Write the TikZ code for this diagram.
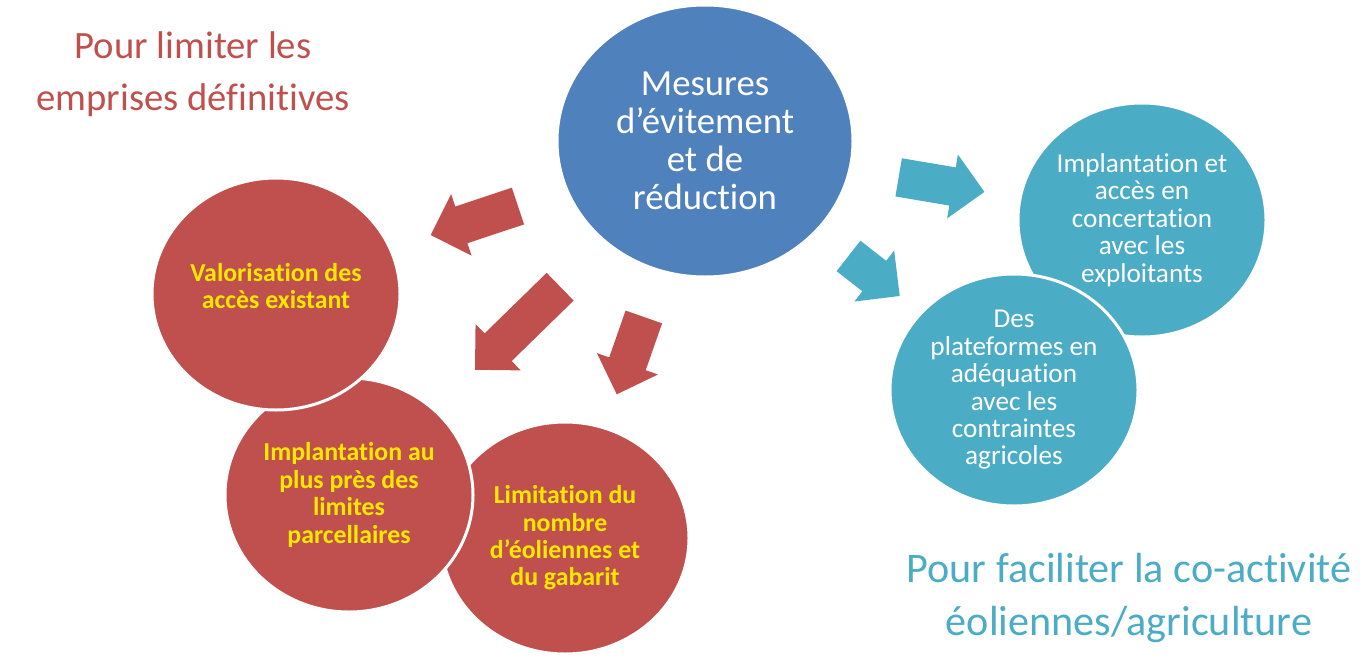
\documentclass[tikz,border=0pt]{standalone}
\usepackage{fontspec}
\setmainfont{Carlito}[Ligatures=NoCommon]
\usepackage{tikz}
\usetikzlibrary{shapes.geometric,shapes.arrows}
\definecolor{mesred}{HTML}{C0504D}
\definecolor{mesblue}{HTML}{4F81BD}
\definecolor{mesteal}{HTML}{4BACC6}
\definecolor{mesyellow}{HTML}{FFE800}
\newlength\pxlen
\setlength\pxlen{0.02cm}

\begin{document}
\begin{tikzpicture}[x=1\pxlen,y=-1\pxlen,
bulle/.style n args={3}{ellipse,fill=#1,draw=white,line width=3\pxlen,minimum width=#2\pxlen,minimum height=#3\pxlen,inner sep=0pt,align=center,text=white,font=\fontsize{15.5}{15.6}\selectfont},
rouge/.style={text=mesyellow,font=\bfseries\fontsize{14.7}{15.6}\selectfont},
fleche/.style={single arrow,fill=#1,draw=none,inner xsep=0pt,inner ysep=19\pxlen,single arrow head extend=13\pxlen},
titre/.style={align=center,text=#1,font=\fontsize{22}{29.5}\selectfont}]
\useasboundingbox (0,0) rectangle (1366,666);
% bulles rouges
\node[bulle={mesred}{248}{232},rouge] (limit) at (565,538) {Limitation du\\nombre\\d’éoliennes et\\du gabarit};
\node[bulle={mesred}{248}{234},rouge] (implant) at (349,495) {Implantation au\\plus près des\\limites\\parcellaires};
\node[bulle={mesred}{248}{232}] (valor) at (276,294) {};
\node[rouge,align=center] (valortxt) at ([yshift=8\pxlen]valor.center) {Valorisation des\\accès existant};
% bulles bleues
\node[bulle={mesteal}{248}{234}] (concert) at (1142,220) {Implantation et\\accès en\\concertation\\avec les\\exploitants};
\node[bulle={mesteal}{248}{232}] (plateforme) at (1014,390) {Des\\plateformes en\\adéquation\\avec les\\contraintes\\agricoles};
\node[bulle={mesblue}{296}{272},font=\fontsize{20.9}{21.6}\selectfont] (mesures) at (705,141) {Mesures\\d’évitement\\et de\\réduction};
% fleches
\foreach \n/\c/\x/\y/\a/\l in %
{1/mesred/483.5/217.5/198.4/92,2/mesred/524.5/321.5/224.3/119,3/mesred/633.5/346.5/250.7/82,%
4/mesteal/932/183/-9.6/87,5/mesteal/866.5/270/-38/65} {
   \node[fleche=\c,rotate=\a,minimum height=\l\pxlen] (fl\n) at (\x,\y) {};
}
% titres
\node[titre=mesred] (gauche) at (193,74) {Pour limiter les\\emprises définitives};
\node[titre=mesteal,font=\fontsize{24}{30}\selectfont] (droite) at (1129,598) {Pour faciliter la co-activité\\éoliennes/agriculture};
\end{tikzpicture}
\end{document}
